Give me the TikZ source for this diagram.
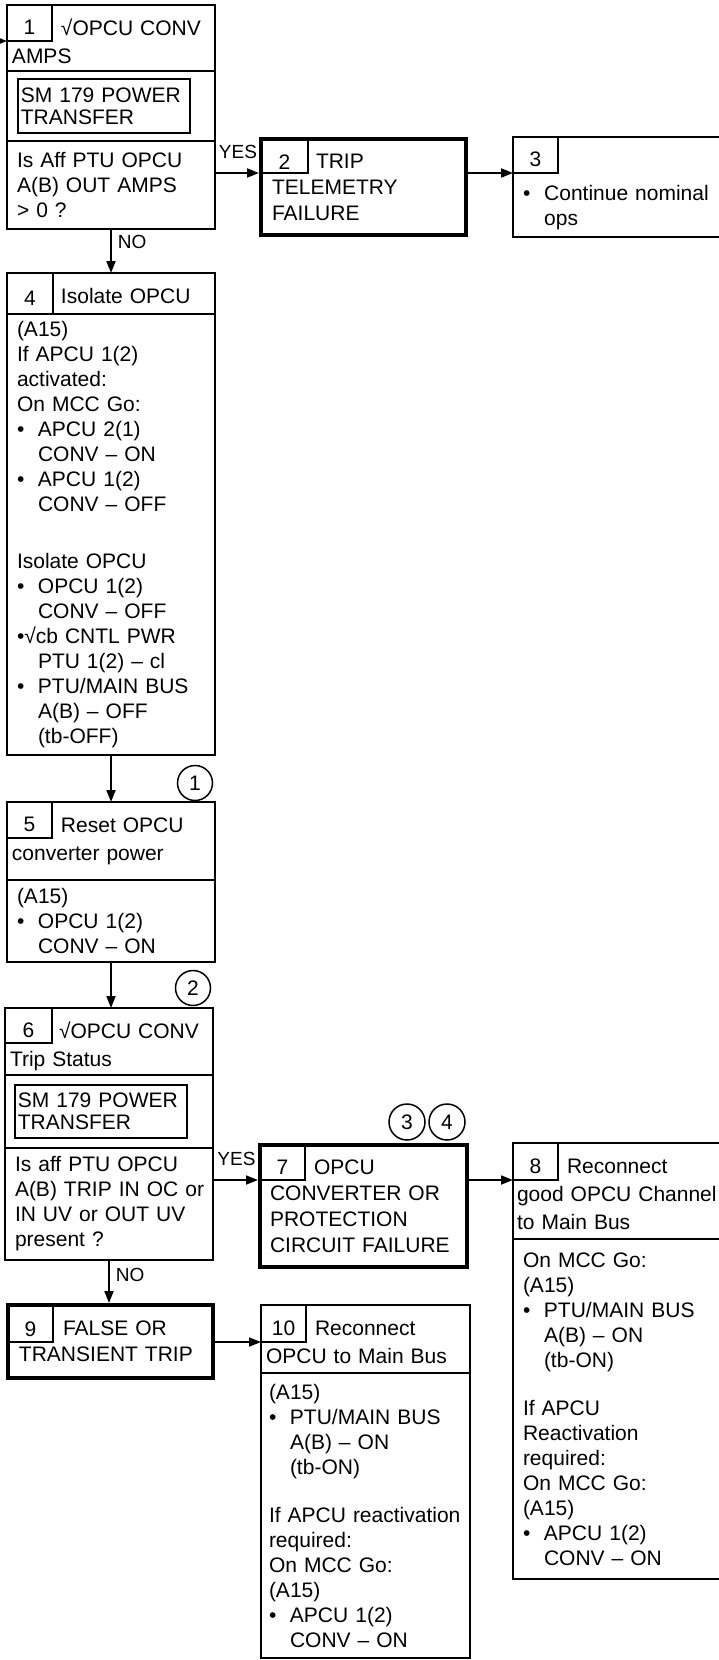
\documentclass[tikz,border=0pt]{standalone}
\usepackage{fontspec}
\setmainfont{Liberation Sans}
\usetikzlibrary{arrows.meta,positioning}
\newcommand{\bl}{\makebox[21pt][l]{\textbullet}}
\newcommand{\ind}{\hspace*{21pt}}
\newcommand{\hd}{\hspace*{49pt}}
\tikzset{sec/.style={draw,line width=1.8pt,outer sep=0pt,anchor=north west,align=left,inner ysep=0pt},
 hdr/.style={sec,inner xsep=5pt,text width=198pt,text height=30pt,font=\fontsize{21}{28}\selectfont},
 bdy/.style={sec,inner xsep=10pt,text width=188pt,font=\fontsize{21}{25}\selectfont},
 thk/.style={sec,line width=4.5pt,inner xsep=11pt,text width=183pt,font=\fontsize{21}{26}\selectfont},
 num/.style={draw,line width=1.8pt,outer sep=0pt,anchor=north west,inner sep=0pt,text height=23pt,text depth=0pt,
  font=\fontsize{21}{25}\selectfont},
 smbox/.style={draw,line width=1.8pt,anchor=west,align=left,inner xsep=3pt,inner ysep=4pt,text width=166pt,font=\fontsize{21}{22}\selectfont}}
\tikzset{conn/.style={draw,circle,line width=1.5pt,minimum size=35pt,inner sep=0pt,font=\fontsize{21}{25}\selectfont},
 arr/.style={-{Triangle[length=12pt,width=9pt]},line width=1.8pt},
 arrk/.style={arr,shorten >=2pt},
 lbl/.style={font=\fontsize{19}{19}\selectfont,inner sep=1pt}}

\begin{document}
\begin{tikzpicture}[x=1pt,y=-1pt]
\useasboundingbox (0,0) rectangle (718,1660);
% check amps
\node[hdr,text depth=36pt,minimum height=66pt] (h1) at (7,5) {\hd √OPCU CONV\\AMPS};
\node[num,minimum width=45pt,minimum height=36pt] (n1) at (h1.north west) {1};
\node[sec,minimum width=208pt,minimum height=70pt] (s1) at (h1.south west) {};
\node[smbox,minimum height=54pt] (sm1) at ([xshift=10pt]s1.west) {SM 179 POWER\\TRANSFER};
\node[bdy,minimum height=88pt] (q1) at (s1.south west) {Is Aff PTU OPCU\\A(B) OUT AMPS\\> 0 ?};
\node[thk,minimum height=96pt] (b2) at (261,139) {\hspace*{44pt}TRIP\\TELEMETRY\\FAILURE};
\node[num,text height=26pt,minimum width=47pt,minimum height=34pt] (n2) at (b2.north west) {2};
\node[sec,minimum width=210pt,minimum height=100pt] (b3) at (513,137) {};
\node[num,minimum width=45pt,minimum height=36pt] (n3) at (b3.north west) {3};
\node[anchor=north west,align=left,text width=190pt,inner sep=0pt,font=\fontsize{21}{25}\selectfont]
 (t3) at ([shift={(10pt,-12pt)}]n3.south west) {\bl Continue nominal\\\ind ops};
% isolate and reset
\node[hdr,text depth=11pt,minimum height=41pt] (h4) at (7,273) {\hd Isolate OPCU};
\node[num,minimum width=46pt,minimum height=41pt] (n4) at (h4.north west) {4};
\node[bdy,minimum height=441pt] (bd4) at (h4.south west)
 {(A15)\\If APCU 1(2)\\activated:\\On MCC Go:\\\bl APCU 2(1)\\\ind CONV -- ON\\\bl APCU 1(2)\\\ind CONV -- OFF\\[32pt]%
 Isolate OPCU\\\bl OPCU 1(2)\\\ind CONV -- OFF\\\textbullet√cb CNTL PWR\\\ind PTU 1(2) -- cl\\\bl PTU/MAIN BUS\\\ind A(B) -- OFF\\\ind (tb-OFF)};
\node[hdr,text depth=48pt,minimum height=78pt] (h5) at (7,802) {\hd Reset OPCU\\converter power};
\node[num,minimum width=45pt,minimum height=36pt] (n5) at (h5.north west) {5};
\node[bdy,minimum height=82pt] (bd5) at (h5.south west) {(A15)\\\bl OPCU 1(2)\\\ind CONV -- ON};
\node[conn] (c1) at (195,783) {1};
% trip status
\node[hdr,text depth=37pt,minimum height=67pt] (h6) at (5,1008) {\hd √OPCU CONV\\Trip Status};
\node[num,minimum width=47pt,minimum height=35pt] (n6) at (h6.north west) {6};
\node[sec,minimum width=208pt,minimum height=73pt] (s6) at (h6.south west) {};
\node[smbox,minimum height=53pt] (sm6) at ([xshift=9pt]s6.west) {SM 179 POWER\\TRANSFER};
\node[bdy,minimum height=112pt] (q6) at (s6.south west)
 {Is aff PTU OPCU\\\mbox{A(B) TRIP IN OC or}\\IN UV or OUT UV\\present ?};
\node[conn] (c2) at (193,988) {2};
\node[thk,inner xsep=10pt,text width=187pt,minimum height=122pt] (b7) at (260,1145)
 {\hspace*{44pt}OPCU\\CONVERTER OR\\PROTECTION\\CIRCUIT FAILURE};
\node[num,minimum width=45pt,minimum height=35pt] (n7) at (b7.north west) {7};
\node[conn,minimum size=36pt] (c3) at (407,1122) {3};
\node[conn,minimum size=36pt] (c4) at (447,1122) {4};
\node[hdr,inner xsep=4pt,text width=202pt,text depth=66pt,minimum height=96pt] (h8) at (513,1143)
 {\hspace*{50pt}Reconnect\\good OPCU Channel\\to Main Bus};
\node[num,minimum width=45pt,minimum height=37pt] (n8) at (h8.north west) {8};
\node[bdy,text width=190pt,minimum height=340pt] (bd8) at (h8.south west)
 {On MCC Go:\\(A15)\\\bl PTU/MAIN BUS\\\ind A(B) -- ON\\\ind (tb-ON)\\[23pt]%
 If APCU\\Reactivation\\required:\\On MCC Go:\\(A15)\\\bl APCU 1(2)\\\ind CONV -- ON};
\node[thk,minimum height=73pt] (b9) at (8,1305) {\hspace*{44pt}FALSE OR\\TRANSIENT TRIP};
\node[num,text height=26pt,minimum width=45pt,minimum height=37pt] (n9) at (b9.north west) {9};
\node[hdr,text width=199pt,text depth=38pt,minimum height=68pt] (h10) at (261,1305) {\hd Reconnect\\OPCU to Main Bus};
\node[num,minimum width=45pt,minimum height=37pt] (n10) at (h10.north west) {10};
\node[bdy,inner xsep=8pt,text width=193pt,minimum height=285pt] (bd10) at (h10.south west)
 {(A15)\\\bl PTU/MAIN BUS\\\ind A(B) -- ON\\\ind (tb-ON)\\[23pt]%
 If APCU reactivation\\required:\\On MCC Go:\\(A15)\\\bl APCU 1(2)\\\ind CONV -- ON};
% connectors
\coordinate (in1) at (-8,41);
\draw[arr] (in1)--(n1.south west);
\draw[arrk] (q1.east |- n2.south west)--node[lbl,above=12pt]{YES}(n2.south west);
\draw[arr] (b2.east |- n3.south west)--(n3.south west);
\draw[arr] (q1.south)--node[lbl,anchor=north west,pos=0,xshift=5pt,yshift=-4pt]{NO}(h4.north);
\draw[arr] (bd4.south)--(h5.north);
\draw[arr] (bd5.south)--(bd5.south |- h6.north);
\draw[arrk] (q6.east |- n7.south west)--node[lbl,above=12pt]{YES}(n7.south west);
\draw[arr] (b7.east |- n8.south west)--(n8.south west);
\draw[arrk] (q6.south)--node[lbl,anchor=north west,pos=0,xshift=5pt,yshift=-6pt]{NO}(q6.south |- b9.north);
\draw[arr] (b9.east |- n10.south west)--(n10.south west);
\end{tikzpicture}
\end{document}
